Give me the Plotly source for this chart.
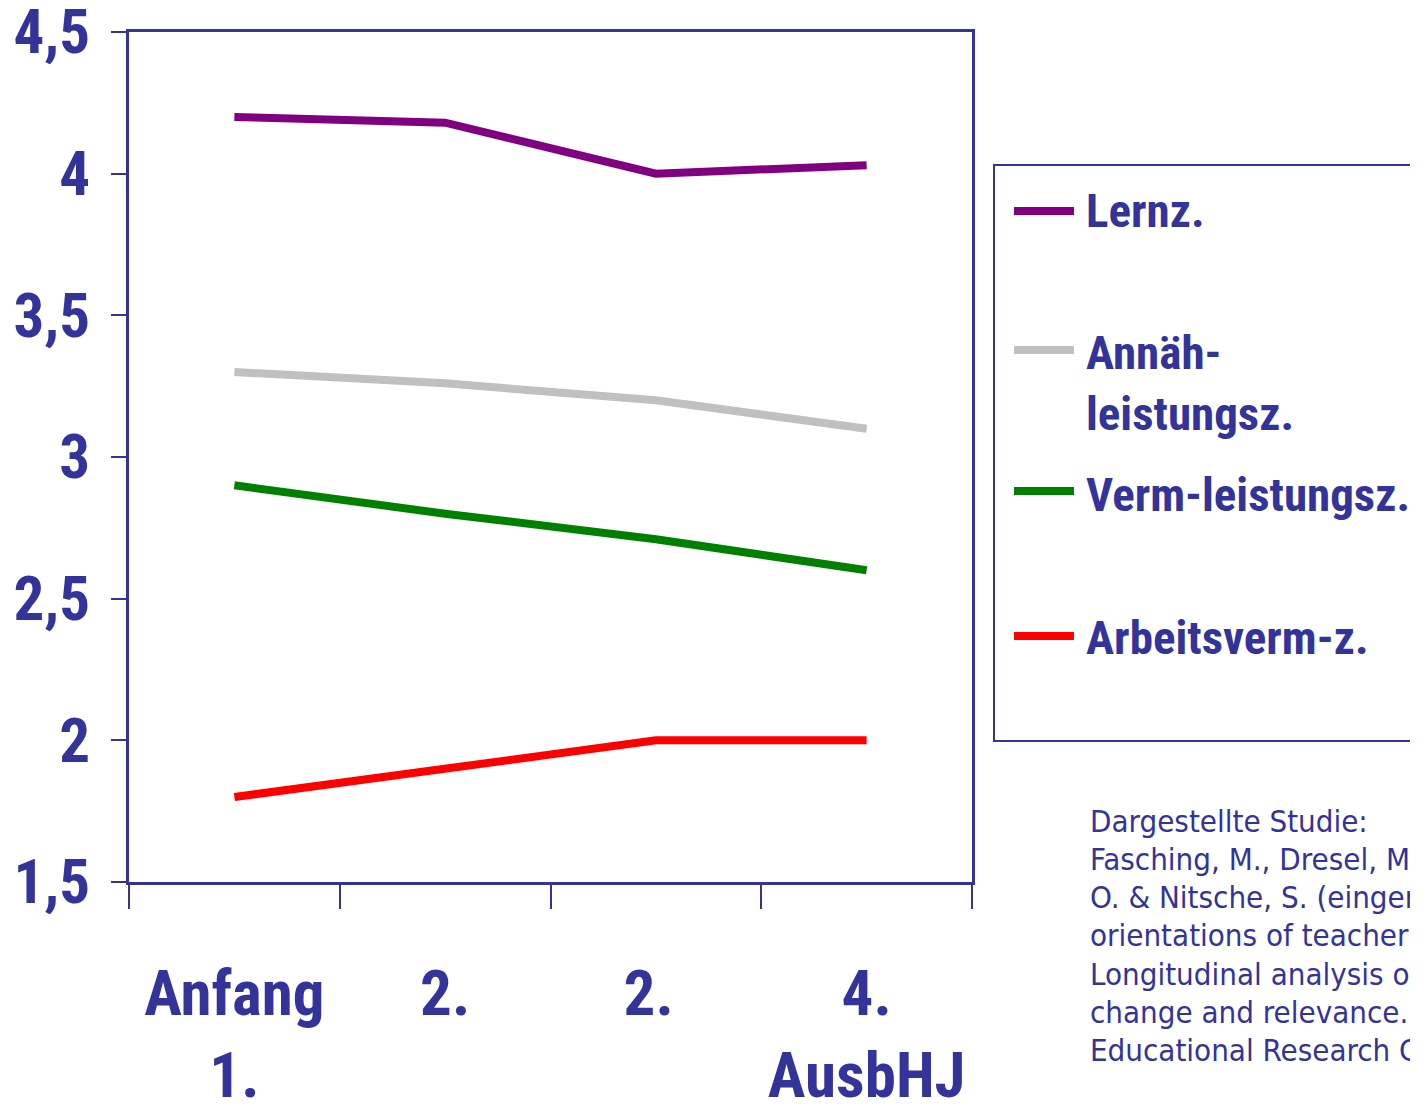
import plotly.graph_objects as go

categories = ["Anfang<br>1.", "2.", "2. ", "4.<br>AusbHJ"]
lernz = [4.2, 4.18, 4.0, 4.03]
annaeh = [3.3, 3.26, 3.2, 3.1]
verm = [2.9, 2.8, 2.71, 2.6]
arbeits = [1.8, 1.9, 2.0, 2.0]

series_names = ["Lernz.", "Annäh-<br>leistungsz.", "Verm-leistungsz.", "Arbeitsverm-z."]
series_values = [lernz, annaeh, verm, arbeits]
series_colors = ["#800080", "#C0C0C0", "#008000", "#FF0000"]

y_ticks = [1.5, 2, 2.5, 3, 3.5, 4, 4.5]

citation_lines = [
    "Dargestellte Studie:",
    "Fasching, M., Dresel, M.,",
    "O. & Nitsche, S. (eingereicht).",
    "orientations of teacher",
    "Longitudinal analysis of",
    "change and relevance.",
    "Educational Research C",
]

BLUE = "#333399"
NARROW = "Roboto Condensed, Open Sans Condensed, sans-serif"
CITE = "DejaVu Sans Condensed, DejaVu Sans, sans-serif"

W, H = 1418, 1105
OFF = 8  # page offset of the plot div
L, R, T, B = 129, 972, 32, 882

fig = go.Figure()
for name, vals, col in zip(series_names, series_values, series_colors):
    fig.add_trace(go.Scatter(x=categories, y=vals, mode="lines", name=name,
                             line=dict(color=col, width=8), showlegend=False))

def px2paper(px, py):
    return (px - L) / (R - L), (B - py) / (B - T)

# legend box
x0, y0 = px2paper(994, 741)
x1, y1 = px2paper(1416, 165)
fig.add_shape(type="rect", xref="paper", yref="paper", x0=x0, y0=y0, x1=x1, y1=y1,
              line=dict(color=BLUE, width=2), fillcolor="rgba(0,0,0,0)")

LEG_FS = 47
legend_y = [211, 350, 491, 636]
legend_base = [228, 370, 512, 655]
for name, col, ly, lb in zip(series_names, series_colors, legend_y, legend_base):
    sx0, sy = px2paper(1014, ly)
    sx1, _ = px2paper(1074, ly)
    fig.add_shape(type="line", xref="paper", yref="paper", x0=sx0, x1=sx1, y0=sy, y1=sy,
                  line=dict(color=col, width=8))
    tx, ty = px2paper(1084, lb - 0.95 * LEG_FS - 2)
    fig.add_annotation(xref="paper", yref="paper", x=tx, y=ty, xanchor="left", yanchor="top",
                       text=name, showarrow=False, align="left",
                       font=dict(family=NARROW, size=LEG_FS, color=BLUE, weight="bold"))

CITE_FS = 31
for i, line in enumerate(citation_lines):
    base = 832 + i * 38.3
    cx, cy = px2paper(1088, base - 0.95 * CITE_FS - 2)
    fig.add_annotation(xref="paper", yref="paper", x=cx, y=cy, xanchor="left", yanchor="top",
                       text=line, showarrow=False, align="left",
                       font=dict(family=CITE, size=CITE_FS, color=BLUE))

fig.update_layout(
    width=W, height=H,
    margin=dict(l=L - OFF, r=W - (R - OFF), t=T - OFF, b=H - (B - OFF), autoexpand=False),
    paper_bgcolor="white", plot_bgcolor="white",
    separators=",.",
    showlegend=False,
)
fig.update_xaxes(
    type="category", range=[-0.5, 3.5], showgrid=False, zeroline=False,
    showline=True, linecolor=BLUE, linewidth=2.5, mirror=True,
    ticks="outside", tickson="boundaries", ticklen=24, tickcolor=BLUE, tickwidth=2,
    tickangle=0, ticklabeloverflow="allow",
    tickfont=dict(family=NARROW, size=63, color=BLUE, weight="bold"),
    ticklabelstandoff=55,
)
fig.update_yaxes(
    range=[1.5, 4.5], tickmode="array", tickvals=y_ticks,
    showgrid=False, zeroline=False,
    showline=True, linecolor=BLUE, linewidth=2.5, mirror=True,
    ticks="outside", ticklen=15, tickcolor=BLUE, tickwidth=2,
    ticklabeloverflow="allow",
    tickfont=dict(family=NARROW, size=61, color=BLUE, weight="bold"),
    ticklabelstandoff=9,
)

fig.write_html("out.html")
